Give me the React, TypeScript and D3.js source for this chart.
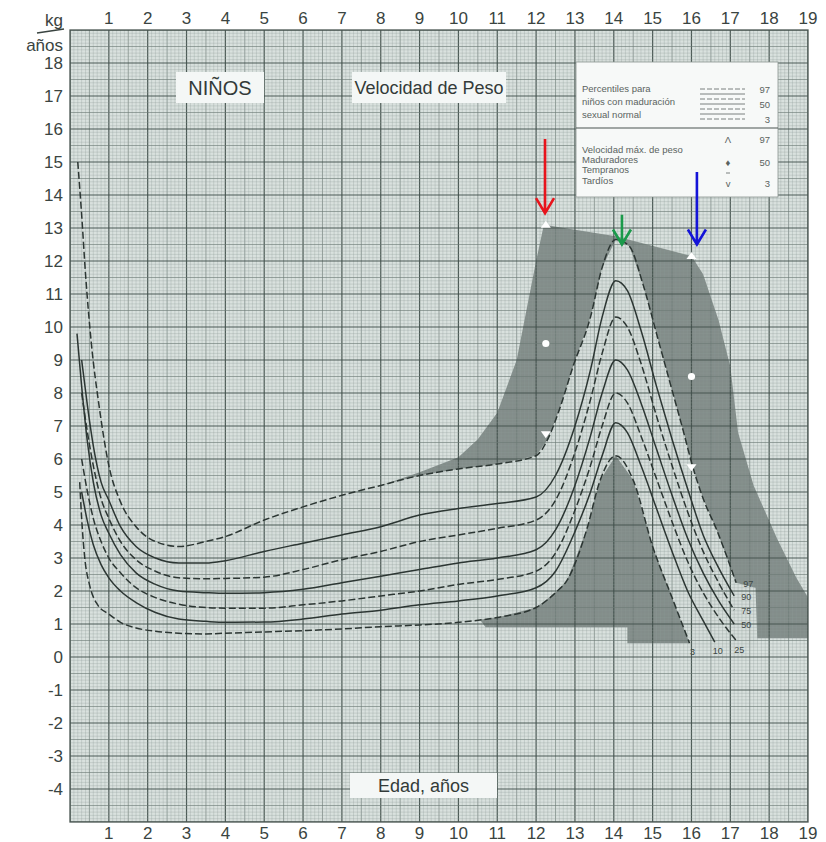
import React, { useEffect, useRef } from 'react'
import * as d3 from 'd3'

const W = 826
const H = 842

// axis ticks
const ageTicks = d3.range(1, 20)
const kgTicks = d3.range(-4, 19)

// percentile curves [age, kg/año]
const p97 = [[0.2,15.0],[0.3,13.4],[0.4,11.6],[0.55,9.5],[0.75,7.6],[1.0,5.8],[1.3,4.7],[1.7,3.95],[2.2,3.5],[2.8,3.35],[3.5,3.5],[4.0,3.65],[5.0,4.15],[6.0,4.55],[7.0,4.9],[8.0,5.2],[9.0,5.5],[10.0,5.7],[11.0,5.85],[12.0,6.1],[12.3,6.6],[12.6,7.5],[12.95,8.8],[13.4,10.3],[13.7,11.8],[14.05,12.65],[14.4,12.45],[14.75,11.3],[15.1,9.8],[15.45,8.3],[15.8,6.8],[16.0,5.9],[16.3,4.8],[16.65,3.85],[17.15,2.25]]
const p90 = [[0.3,9.0],[0.45,7.6],[0.6,6.4],[0.8,5.3],[1.0,4.75],[1.3,3.95],[1.7,3.35],[2.2,3.0],[2.8,2.85],[3.5,2.85],[4.0,2.92],[5.0,3.2],[6.0,3.45],[7.0,3.7],[8.0,3.95],[9.0,4.3],[10.0,4.5],[11.0,4.65],[12.0,4.85],[12.5,5.5],[13.0,7.0],[13.4,8.7],[13.7,10.3],[14.05,11.4],[14.35,11.1],[14.7,9.9],[15.1,8.2],[15.5,6.6],[15.9,5.1],[16.3,3.7],[16.7,2.7],[17.1,1.85]]
const p75 = [[0.3,8.0],[0.45,6.8],[0.6,5.8],[0.8,4.8],[1.0,4.2],[1.3,3.5],[1.7,2.95],[2.2,2.6],[2.8,2.4],[3.5,2.37],[4.0,2.38],[5.0,2.42],[6.0,2.65],[7.0,2.95],[8.0,3.2],[9.0,3.5],[10.0,3.7],[11.0,3.9],[12.0,4.15],[12.5,4.75],[13.0,6.2],[13.4,7.8],[13.7,9.2],[14.05,10.3],[14.35,10.0],[14.7,8.9],[15.1,7.3],[15.5,5.8],[15.9,4.4],[16.3,3.2],[16.7,2.25],[17.1,1.42]]
const p50 = [[0.18,9.8],[0.3,8.2],[0.45,6.5],[0.6,5.3],[0.8,4.3],[1.0,3.75],[1.3,3.1],[1.7,2.55],[2.2,2.2],[2.8,2.0],[3.5,1.95],[4.0,1.93],[5.0,1.95],[6.0,2.05],[7.0,2.25],[8.0,2.45],[9.0,2.65],[10.0,2.85],[11.0,3.0],[12.0,3.25],[12.5,3.85],[13.0,5.2],[13.4,6.7],[13.7,8.0],[14.05,9.0],[14.35,8.7],[14.7,7.7],[15.1,6.3],[15.5,4.9],[15.9,3.6],[16.3,2.55],[16.7,1.7],[17.1,1.0]]
const p25 = [[0.3,6.0],[0.45,5.0],[0.6,4.2],[0.8,3.5],[1.0,3.0],[1.3,2.55],[1.7,2.1],[2.2,1.8],[2.8,1.6],[3.5,1.5],[4.0,1.48],[5.0,1.48],[6.0,1.58],[7.0,1.7],[8.0,1.85],[9.0,2.0],[10.0,2.2],[11.0,2.35],[12.0,2.6],[12.5,3.15],[13.0,4.45],[13.4,5.8],[13.7,7.0],[14.05,8.0],[14.35,7.7],[14.7,6.7],[15.1,5.4],[15.5,4.1],[15.9,2.9],[16.3,1.95],[16.7,1.2],[17.15,0.5]]
const p10 = [[0.3,5.0],[0.45,4.1],[0.6,3.4],[0.8,2.8],[1.0,2.4],[1.3,2.0],[1.7,1.65],[2.2,1.35],[2.8,1.15],[3.5,1.08],[4.0,1.05],[5.0,1.06],[6.0,1.15],[7.0,1.3],[8.0,1.42],[9.0,1.58],[10.0,1.7],[11.0,1.85],[12.0,2.1],[12.5,2.6],[13.0,3.8],[13.4,5.0],[13.7,6.1],[14.05,7.1],[14.35,6.8],[14.7,5.8],[15.1,4.5],[15.5,3.2],[15.9,2.0],[16.3,1.1],[16.6,0.45]]
const p3 = [[0.25,5.3],[0.3,4.2],[0.38,3.0],[0.5,2.2],[0.7,1.6],[1.0,1.3],[1.3,1.05],[1.7,0.88],[2.2,0.78],[2.8,0.72],[3.5,0.7],[4.0,0.72],[5.0,0.76],[6.0,0.8],[7.0,0.85],[8.0,0.92],[9.0,0.97],[10.0,1.05],[11.0,1.2],[12.0,1.5],[12.5,1.95],[12.8,2.33],[13.3,3.85],[13.65,5.36],[14.05,6.1],[14.5,5.36],[15.0,3.35],[15.5,1.8],[15.95,0.42]]

const percentileNames = ['97', '90', '75', '50', '25', '10', '3']
const percentileCurves = [p97, p90, p75, p50, p25, p10, p3]

// shaded zone of early/late maturers
const maturerZone = [[8.0,5.2],[9.0,5.6],[10.0,6.05],[10.5,6.6],[11.0,7.4],[11.5,9.0],[11.8,10.8],[12.0,12.0],[12.2,13.1],[14.05,12.75],[16.0,12.15],[16.3,11.6],[16.7,10.2],[17.0,8.8],[17.2,6.8],[17.6,5.2],[18.2,3.6],[18.7,2.4],[19.0,1.8],[19.0,0.57],[16.0,0.57],[16.0,0.42],[14.35,0.42],[14.35,0.9],[10.7,0.9],[9.5,2.8]]
// closing of the percentile band at the lower right
const bandClose = [[17.65,2.1],[17.7,0.3],[15.9,0.3]]

// peak velocity markers: tempranos at 12.25, tardíos at 16.0
const earlyPeaks = [{ age: 12.25, kg: 13.1, p: '97' }, { age: 12.25, kg: 9.5, p: '50' }, { age: 12.25, kg: 6.75, p: '3' }]
const latePeaks = [{ age: 16.0, kg: 12.15, p: '97' }, { age: 16.0, kg: 8.5, p: '50' }, { age: 16.0, kg: 5.75, p: '3' }]

// annotation arrows
const arrows = [
  { age: 12.23, from: 15.7, to: 13.45, color: '#e8141c' },
  { age: 14.21, from: 13.4, to: 12.5, color: '#1a9a4a' },
  { age: 16.14, from: 14.7, to: 12.5, color: '#1414d8' }
]

const FONT = "'Liberation Sans', Arial, sans-serif"

const App = () => {
  const svgRef = useRef()

  useEffect(() => {
    document.body.style.margin = '0'
    const svg = d3.select(svgRef.current)
    svg.selectAll('*').remove()

    const x = d3.scaleLinear().domain([0, 19]).range([70, 808])
    const y = d3.scaleLinear().domain([-5, 19]).range([822, 30])
    const [x0, x1] = x.range()
    const [yb, yt] = y.range()

    svg.append('rect').attr('width', W).attr('height', H).attr('fill', '#ffffff')

    svg.append('defs').append('clipPath').attr('id', 'plot')
      .append('rect').attr('x', x0).attr('y', yt).attr('width', x1 - x0).attr('height', yb - yt)

    const g = svg.append('g').attr('clip-path', 'url(#plot)')

    // paper
    g.append('rect').attr('x', x0).attr('y', yt).attr('width', x1 - x0).attr('height', yb - yt)
      .attr('fill', '#d9e1de')

    const area = d3.line().x(d => x(d[0])).y(d => y(d[1]))

    // dark zone
    g.append('path').attr('d', area(maturerZone) + 'Z').attr('fill', '#838d8a')

    // light band between p97 and p3
    const band = [...p97, ...bandClose, ...p3.slice().reverse()]
    const bandPath = d3.line().x(d => x(d[0])).y(d => y(d[1])).curve(d3.curveMonotoneX)
    g.append('path').attr('d', d3.line().x(d => x(d[0])).y(d => y(d[1]))(band) + 'Z').attr('fill', '#d6dedb')

    // grid
    const grid = g.append('g')
    d3.range(0, 191).forEach(i => {
      const major = i % 10 === 0, mid = i % 5 === 0
      grid.append('line')
        .attr('x1', x(i / 10)).attr('x2', x(i / 10)).attr('y1', yt).attr('y2', yb)
        .attr('stroke', major ? '#45524e' : mid ? '#6d7a76' : '#8e9b97')
        .attr('stroke-opacity', major ? 0.95 : mid ? 0.7 : 0.5)
        .attr('stroke-width', major ? 1.2 : mid ? 0.9 : 0.6)
    })
    d3.range(-50, 191).forEach(i => {
      const major = i % 10 === 0, mid = i % 5 === 0
      grid.append('line')
        .attr('y1', y(i / 10)).attr('y2', y(i / 10)).attr('x1', x0).attr('x2', x1)
        .attr('stroke', major ? '#45524e' : mid ? '#6d7a76' : '#8e9b97')
        .attr('stroke-opacity', major ? 0.95 : mid ? 0.7 : 0.5)
        .attr('stroke-width', major ? 1.2 : mid ? 0.9 : 0.6)
    })

    // percentile curves
    const line = d3.line().x(d => x(d[0])).y(d => y(d[1])).curve(d3.curveMonotoneX)
    percentileCurves.forEach((pts, i) => {
      g.append('path').datum(pts)
        .attr('d', line)
        .attr('fill', 'none')
        .attr('stroke', '#2c3633')
        .attr('stroke-width', 1.5)
        .attr('stroke-dasharray', i % 2 === 0 ? '7,3' : null)
    })

    // end labels of curves
    percentileCurves.forEach((pts, i) => {
      const [a, v] = pts[pts.length - 1]
      const below = i >= 4
      g.append('text')
        .attr('x', x(a) + (below ? 3 : 7))
        .attr('y', y(v) + (below ? 12 : 4))
        .attr('text-anchor', below ? 'middle' : 'start')
        .style('font-family', FONT).style('font-size', '9px').style('fill', '#3c4643')
        .text(percentileNames[i])
    })

    // white peak markers
    const marker = (d) => {
      const cx = x(d.age), cy = y(d.kg)
      if (d.p === '50') {
        g.append('circle').attr('cx', cx).attr('cy', cy).attr('r', 3.6).attr('fill', '#ffffff')
      } else {
        const s = d.p === '97' ? -1 : 1
        g.append('path')
          .attr('d', `M${cx - 5},${cy - s * 3}L${cx + 5},${cy - s * 3}L${cx},${cy + s * 4}Z`)
          .attr('fill', '#ffffff')
      }
    }
    earlyPeaks.forEach(marker)
    latePeaks.forEach(marker)

    // plot border
    svg.append('rect').attr('x', x0).attr('y', yt).attr('width', x1 - x0).attr('height', yb - yt)
      .attr('fill', 'none').attr('stroke', '#4a5652').attr('stroke-width', 1.3)

    // title boxes
    const box = (bx, by, bw, bh, label, size) => {
      svg.append('rect').attr('x', bx).attr('y', by).attr('width', bw).attr('height', bh).attr('fill', '#f4f7f6')
      svg.append('text').attr('x', bx + bw / 2).attr('y', by + bh / 2 + size * 0.36)
        .attr('text-anchor', 'middle')
        .style('font-family', FONT).style('font-size', `${size}px`).style('fill', '#333b39')
        .text(label)
    }
    box(176, 72, 88, 31, 'NIÑOS', 20)
    box(352, 72, 154, 31, 'Velocidad de Peso', 18)
    box(350, 773, 147, 25, 'Edad, años', 18)

    // legend
    const lg = svg.append('g')
    lg.append('rect').attr('x', 576).attr('y', 62).attr('width', 202).attr('height', 135)
      .attr('fill', '#f7f9f8').attr('stroke', '#8a9490').attr('stroke-width', 0.8)
    lg.append('line').attr('x1', 576).attr('x2', 778).attr('y1', 128).attr('y2', 128)
      .attr('stroke', '#4a5450').attr('stroke-width', 1.2)
    const ltxt = (tx, ty, t, anchor = 'start') => lg.append('text').attr('x', tx).attr('y', ty)
      .attr('text-anchor', anchor)
      .style('font-family', FONT).style('font-size', '9.5px').style('fill', '#5a6360').text(t)
    ltxt(582, 92, 'Percentiles para')
    ltxt(582, 105, 'niños con maduración')
    ltxt(582, 118, 'sexual normal')
    percentileNames.forEach((p, i) => {
      const ly = 89 + i * 5
      lg.append('line').attr('x1', 700).attr('x2', 745).attr('y1', ly).attr('y2', ly)
        .attr('stroke', '#5a6360').attr('stroke-width', 0.8)
        .attr('stroke-dasharray', i % 2 === 0 ? '5,2' : null)
    })
    ltxt(770, 93, '97', 'end')
    ltxt(770, 108, '50', 'end')
    ltxt(770, 123, '3', 'end')
    ltxt(582, 153, 'Velocidad máx. de peso')
    ltxt(582, 163, 'Maduradores')
    ltxt(582, 173, 'Tempranos')
    ltxt(582, 184, 'Tardíos')
    ltxt(728, 143, 'Λ', 'middle')
    ltxt(728, 166, '♦', 'middle')
    lg.append('line').attr('x1', 726).attr('x2', 730).attr('y1', 173).attr('y2', 173)
      .attr('stroke', '#5a6360').attr('stroke-width', 0.8)
    ltxt(728, 187, 'v', 'middle')
    ltxt(770, 143, '97', 'end')
    ltxt(770, 166, '50', 'end')
    ltxt(770, 187, '3', 'end')

    // arrows
    arrows.forEach(a => {
      const ax = x(a.age), ya = y(a.from), yb2 = y(a.to)
      svg.append('path')
        .attr('d', `M${ax},${ya}L${ax},${yb2}M${ax - 9},${yb2 - 15}L${ax},${yb2}L${ax + 9},${yb2 - 15}`)
        .attr('fill', 'none').attr('stroke', a.color).attr('stroke-width', 2.6)
    })

    // axis labels
    const axisText = (tx, ty, t, anchor) => svg.append('text').attr('x', tx).attr('y', ty)
      .attr('text-anchor', anchor)
      .style('font-family', FONT).style('font-size', '17px').style('fill', '#3a4441').text(t)
    ageTicks.forEach(a => {
      axisText(x(a), 24, String(a), 'middle')
      axisText(x(a), 839, String(a), 'middle')
    })
    kgTicks.forEach(k => axisText(63, y(k) + 6, String(k), 'end'))
    axisText(63, 26, 'kg', 'end')
    axisText(63, 51, 'años', 'end')
    svg.append('line').attr('x1', 37).attr('y1', 33).attr('x2', 64).attr('y2', 29)
      .attr('stroke', '#3a4441').attr('stroke-width', 1.6)
  }, [])

  return <svg ref={svgRef} width={W} height={H} style={{ display: 'block' }}></svg>
}

export default App
